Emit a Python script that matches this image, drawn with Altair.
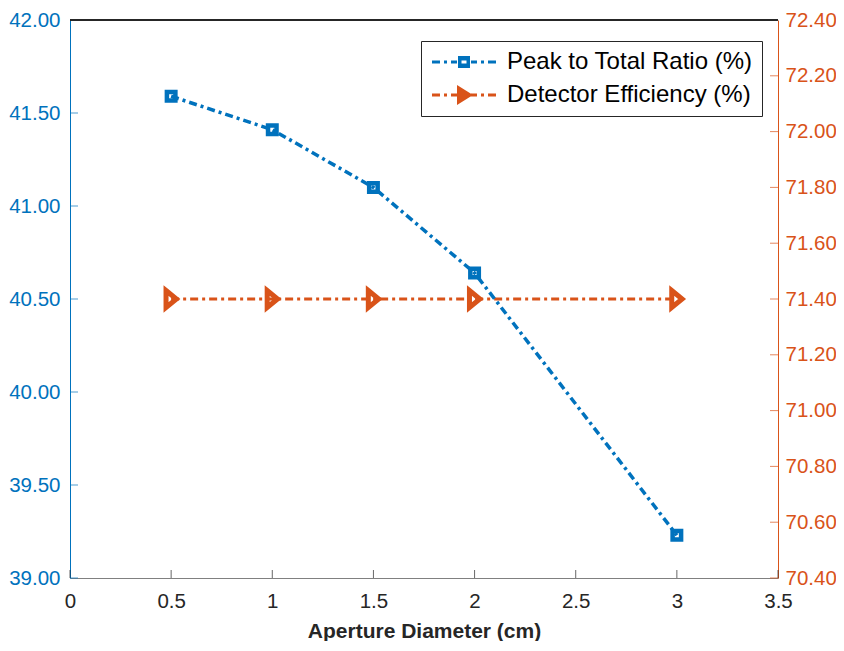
import altair as alt
import pandas as pd

# ---------------- data ----------------
aperture = [0.5, 1.0, 1.5, 2.0, 3.0]
peak_to_total = [41.59, 41.41, 41.10, 40.64, 39.23]
efficiency = [71.40, 71.40, 71.40, 71.40, 71.40]
series_names = ["Peak to Total Ratio (%)", "Detector Efficiency (%)"]
x_tick_values = [0, 0.5, 1, 1.5, 2, 2.5, 3, 3.5]
left_tick_values = [39.0, 39.5, 40.0, 40.5, 41.0, 41.5, 42.0]
right_tick_values = [70.4, 70.6, 70.8, 71.0, 71.2, 71.4, 71.6, 71.8, 72.0, 72.2, 72.4]
x_title = "Aperture Diameter (cm)"

# ---------------- styling ----------------
BLUE = "#0072BD"
ORANGE = "#D95319"
DARK = "#262626"
FONT = "Liberation Sans"
W, H = 708, 558
DASH = [8, 4, 3, 4]
TICK_FS = 20.5

peak_df = pd.DataFrame({"x": aperture, "val": peak_to_total})
eff_df = pd.DataFrame({"x": aperture, "val": efficiency})
xt_df = pd.DataFrame({"x": x_tick_values})
lt_df = pd.DataFrame({"val": left_tick_values})
rt_df = pd.DataFrame({"val": right_tick_values})
legend_df = pd.DataFrame({"series": series_names})

x_scale = alt.Scale(domain=[0, 3.5], nice=False, zero=False)
left_scale = alt.Scale(domain=[39, 42], nice=False, zero=False)
right_scale = alt.Scale(domain=[70.4, 72.4], nice=False, zero=False)

x_axis = alt.Axis(
    title=x_title, values=x_tick_values, format="~g", ticks=False, grid=False,
    domainColor="#808080", domainWidth=1,
    labelColor=DARK, labelFont=FONT, labelFontSize=TICK_FS, labelPadding=13,
    labelFlush=False,
    titleFont=FONT, titleFontSize=21, titleFontWeight="bold",
    titleColor=DARK, titlePadding=9,
)
left_axis = alt.Axis(
    title=None, orient="left", values=left_tick_values, format=".2f",
    ticks=False, grid=False, domainColor=BLUE, domainWidth=1,
    labelColor=BLUE, labelFont=FONT, labelFontSize=TICK_FS, labelPadding=10,
)
right_axis = alt.Axis(
    title=None, orient="right", values=right_tick_values, format=".2f",
    ticks=False, grid=False, domainColor=ORANGE, domainWidth=1,
    labelColor=ORANGE, labelFont=FONT, labelFontSize=TICK_FS, labelPadding=7,
)

X = alt.X("x:Q", scale=x_scale, axis=x_axis)
YL = alt.Y("val:Q", scale=left_scale, axis=left_axis)
YR = alt.Y("val:Q", scale=right_scale, axis=right_axis)


# ---------------- legend symbols (custom paths, 1 unit = 8 px) ----------------
L0 = -2  # line start relative to legend content edge (px)


def u(p):
    return f"{(L0 + p - 8) / 8:.4f}"


def v(p):
    return f"{p / 8:.4f}"


def rect(x0, x1, y0, y1):
    return f"M{u(x0)},{v(y0)}H{u(x1)}V{v(y1)}H{u(x0)}Z"


def rect_rev(x0, x1, y0, y1):
    return f"M{u(x0)},{v(y0)}V{v(y1)}H{u(x1)}V{v(y0)}Z"


dashes = "".join(
    rect(a, b, -1.5, 1.5)
    for a, b in [(0, 8), (12, 15), (19, 25), (39, 45), (49, 52), (56, 64)]
)
square_path = dashes + rect(26, 38, -6, 6) + rect_rev(29.5, 34.5, -1.5, 1.5)
tri_path = dashes + f"M{u(25)},{v(-10)}L{u(41)},0L{u(25)},{v(10)}Z"

legend_kw = dict(
    title=None, orient="none", legendX=351, legendY=21,
    padding=9, rowPadding=9, labelFont=FONT, labelFontSize=24,
    labelColor="#000000", labelOffset=53, labelLimit=500,
    labelExpr="datum.label + ' '",
    symbolSize=256, symbolStrokeWidth=0, symbolOpacity=1,
    strokeColor=DARK, fillColor="white", cornerRadius=0,
)

legend_layer = alt.Chart(legend_df).mark_point(filled=True, opacity=1).encode(
    shape=alt.Shape("series:N", scale=alt.Scale(domain=series_names, range=[square_path, tri_path]),
                    legend=alt.Legend(**legend_kw)),
    color=alt.Color("series:N", scale=alt.Scale(domain=series_names, range=[BLUE, ORANGE]),
                    legend=alt.Legend(**legend_kw)),
).transform_filter("false")

# plot markers
TRI_MARK = "M-0.6,-1L0.62,0L-0.6,1Z"

# ---------------- right (orange) group ----------------
eff_line = alt.Chart(eff_df).mark_line(color=ORANGE, strokeWidth=3, strokeDash=DASH).encode(x=X, y=YR)
eff_pts = alt.Chart(eff_df).mark_point(
    shape=TRI_MARK, filled=False, color=ORANGE, strokeWidth=5, size=290, opacity=1
).encode(x=X, y=YR)
right_ticks = alt.Chart(rt_df).mark_tick(orient="horizontal", color=ORANGE, thickness=1, size=8).encode(
    y=YR, x=alt.value(W - 4)
)
right_group = alt.layer(eff_line, eff_pts, right_ticks)

# ---------------- left (blue) group ----------------
peak_line = alt.Chart(peak_df).mark_line(color=BLUE, strokeWidth=3.5, strokeDash=DASH).encode(x=X, y=YL)
peak_pts = alt.Chart(peak_df).mark_point(
    shape="square", filled=False, color=BLUE, strokeWidth=4.5, size=72, opacity=1
).encode(x=X, y=YL)
left_ticks = alt.Chart(lt_df).mark_tick(orient="horizontal", color=BLUE, thickness=1, size=8).encode(
    y=YL, x=alt.value(4)
)
bottom_ticks = alt.Chart(xt_df).mark_tick(orient="vertical", color=DARK, thickness=1, size=8).encode(
    x=X, y=alt.value(H - 4)
)
top_border = alt.Chart(xt_df).mark_rule(color=DARK, strokeWidth=1).encode(
    x=alt.value(0), x2=alt.value(W), y=alt.value(0)
)
left_group = alt.layer(peak_line, peak_pts, left_ticks, bottom_ticks, top_border, legend_layer)

chart = (
    alt.layer(right_group, left_group)
    .resolve_scale(y="independent")
    .properties(
        width=W, height=H,
        autosize=alt.AutoSizeParams(type="none"),
        padding={"left": 62, "top": 12, "right": 58, "bottom": 63},
        background="white",
    )
    .configure_view(stroke=None)
)

chart.save("out.html", embed_options={"renderer": "svg", "actions": False})
